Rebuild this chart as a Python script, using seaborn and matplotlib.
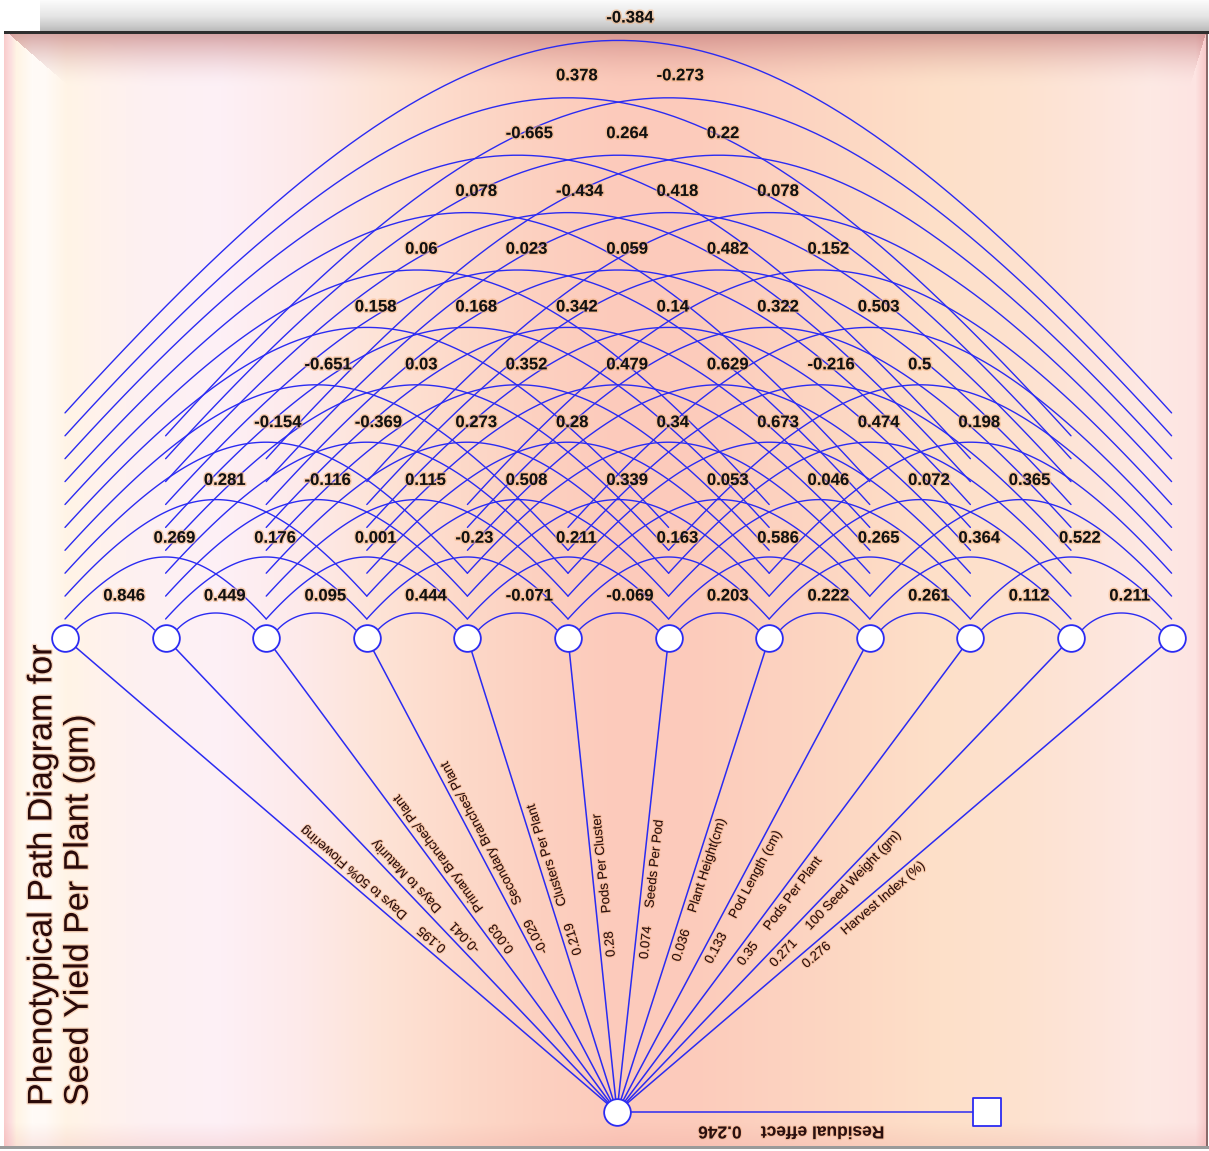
import numpy as np
import pandas as pd
import matplotlib
matplotlib.use("Agg")
import matplotlib.pyplot as plt
import matplotlib.patheffects as pe
import seaborn as sns

# ---------------------------------------------------------------- data
traits = ["Days to 50% Flowering", "Days to Maturity", "Primary Branches/ Plant",
          "Secondary Branches/ Plant", "Clusters Per Plant", "Pods Per Cluster",
          "Seeds Per Pod", "Plant Height(cm)", "Pod Length (cm)", "Pods Per Plant",
          "100 Seed Weight (gm)", "Harvest Index (%)"]
direct_effects = [0.195, -0.041, 0.003, -0.029, 0.219, 0.28,
                  0.074, 0.036, 0.133, 0.35, 0.271, 0.276]
residual_effect = 0.246

# correlation between trait i and trait i+lag
lag1 = [0.846, 0.449, 0.095, 0.444, -0.071, -0.069, 0.203, 0.222, 0.261, 0.112, 0.211]
lag2 = [0.269, 0.176, 0.001, -0.23, 0.211, 0.163, 0.586, 0.265, 0.364, 0.522]
lag3 = [0.281, -0.116, 0.115, 0.508, 0.339, 0.053, 0.046, 0.072, 0.365]
lag4 = [-0.154, -0.369, 0.273, 0.28, 0.34, 0.673, 0.474, 0.198]
lag5 = [-0.651, 0.03, 0.352, 0.479, 0.629, -0.216, 0.5]
lag6 = [0.158, 0.168, 0.342, 0.14, 0.322, 0.503]
lag7 = [0.06, 0.023, 0.059, 0.482, 0.152]
lag8 = [0.078, -0.434, 0.418, 0.078]
lag9 = [-0.665, 0.264, 0.22]
lag10 = [0.378, -0.273]
lag11 = [-0.384]
lags = [lag1, lag2, lag3, lag4, lag5, lag6, lag7, lag8, lag9, lag10, lag11]

# ---------------------------------------------------------------- layout
W, H = 1209, 1151
NODE_X0, NODE_DX, NODE_Y, NODE_R = 65.0, 100.6, 638.0, 13.5
ROOT = (617.0, 1112.0)
RESID = (987.0, 1112.0)
BLUE = "#2b2bf2"
FONT = "Liberation Sans"
n = len(traits)
node_x = NODE_X0 + NODE_DX * np.arange(n)

sns.set_theme(style="white")
plt.rcParams["font.family"] = [FONT, "DejaVu Sans"]

fig = plt.figure(figsize=(W / 100, H / 100), dpi=100)
ax = fig.add_axes([0, 0, 1, 1])

# ---------------------------------------------------------------- backdrop
def hex2rgb(h):
    h = h.lstrip("#")
    return np.array([int(h[i:i + 2], 16) for i in (0, 2, 4)]) / 255.0

stops_x = [4, 10, 16, 32, 45, 66, 100, 150, 220, 300, 380, 460, 540, 620, 690,
           780, 860, 940, 1020, 1090, 1150, 1195, 1203, 1208]
stops_c = ["#f9cccc", "#fcdede", "#fff4e4", "#fffbf7", "#fffaf6", "#fff4e6", "#fff2ec",
           "#fdf0f2", "#fdf0f6", "#fdeaea", "#fde3d6", "#fdd9c9", "#fcd0c0", "#fccabb",
           "#fccbbb", "#fcd2c0", "#fdd9c4", "#fde0c9", "#fde2cf", "#fde5da", "#fde9e4",
           "#fde4e2", "#f9cfcf", "#f5c2c2"]
cols = np.array([hex2rgb(c) for c in stops_c])
xs = np.arange(W)
row = np.stack([np.interp(xs, stops_x, cols[:, k]) for k in range(3)], axis=1)

bg = np.ones((H, W, 3))
bg[34:1146, 4:1208] = row[4:1208]

# bevel shading along the top of the panel
shade = hex2rgb("#c07878")
for y in range(34, 86):
    t = (y - 34) / 52.0
    a = 0.62 * (1 - t) ** 1.6
    x_left = int(10 + (y - 34) * 1.15)
    x_right = int(1206 - (y - 34) * 0.3)
    bg[y, x_left:x_right] = bg[y, x_left:x_right] * (1 - a) + shade * a
# soft shading along the bottom edge
for y in range(1122, 1146):
    t = (1146 - y) / 24.0
    a = 0.18 * (1 - t)
    bg[y, 4:1208] = bg[y, 4:1208] * (1 - a) + hex2rgb("#e89090") * a

# grey header strip and dividing rule
for y in range(0, 32):
    t = y / 31.0
    g = np.interp(t, [0, 0.2, 0.5, 0.8, 1.0], [0.985, 0.95, 0.9, 0.8, 0.72])
    bg[y, 40:W] = g
bg[31:34, 4:W] = hex2rgb("#2e2e2e")
bg[34:1146, 1206:1208] = hex2rgb("#8a6a6a")
bg[1146:1149, 0:W] = hex2rgb("#9a9a9a")

ax.imshow(bg, extent=(0, W, H, 0), origin="upper", aspect="auto", zorder=0,
          interpolation="bilinear")

# ---------------------------------------------------------------- correlation arcs
def bezier(p0, p1, p2, p3, m=90):
    t = np.linspace(0, 1, m)[:, None]
    return ((1 - t) ** 3 * p0 + 3 * t * (1 - t) ** 2 * p1
            + 3 * t ** 2 * (1 - t) * p2 + t ** 3 * p3)

SLOPE = 1.1
arc_rows, labels = [], []
for d, vals in enumerate(lags, start=1):
    for i, v in enumerate(vals):
        j = i + d
        if d == 1:
            y0 = 630.0
            p0 = np.array([node_x[i] + 11, y0])
            p3 = np.array([node_x[j] - 11, y0])
            apex = 613.0
        else:
            y0 = 619.0 - (d - 2) * 22.9
            p0 = np.array([node_x[i], y0])
            p3 = np.array([node_x[j], y0])
            apex = 557.0 - (d - 2) * 57.4
        lift = 4.0 * (y0 - apex) / 3.0
        c = lift / SLOPE
        p1 = p0 + np.array([c, -lift])
        p2 = p3 + np.array([-c, -lift])
        pts = bezier(p0, p1, p2, p3)
        key = f"{i}-{j}"
        arc_rows.append(pd.DataFrame({"x": pts[:, 0], "y": pts[:, 1], "pair": key}))
        labels.append(((node_x[i] + node_x[j]) / 2 - 12, 596 - (d - 1) * 57.8, v))

arcs = pd.concat(arc_rows, ignore_index=True)
sns.lineplot(data=arcs, x="x", y="y", units="pair", estimator=None, sort=False,
             color=BLUE, lw=1.0, ax=ax, legend=False, zorder=2)

glow = [pe.withStroke(linewidth=2.2, foreground="#f3b27e", alpha=0.55)]
for lx, ly, v in labels:
    ax.text(lx, ly, str(v), ha="left", va="center", fontsize=12, fontweight="bold",
            color="#111111", zorder=6, path_effects=glow)

# ---------------------------------------------------------------- direct paths
spoke_rows = []
for i in range(n):
    spoke_rows.append(pd.DataFrame({"x": [ROOT[0], node_x[i]], "y": [ROOT[1], NODE_Y],
                                    "path": i}))
spoke_rows.append(pd.DataFrame({"x": [ROOT[0], RESID[0]], "y": [ROOT[1], RESID[1]],
                                "path": n}))
spokes = pd.concat(spoke_rows, ignore_index=True)
sns.lineplot(data=spokes, x="x", y="y", units="path", estimator=None, sort=False,
             color=BLUE, lw=1.1, ax=ax, legend=False, zorder=3)

soft = [pe.withStroke(linewidth=1.6, foreground="#f0a878", alpha=0.45)]
for i in range(n):
    dx, dy = node_x[i] - ROOT[0], NODE_Y - ROOT[1]
    L = np.hypot(dx, dy)
    ux, uy = dx / L, dy / L
    nx, ny = -uy, ux
    ang = np.degrees(np.arctan2(-dy, dx))
    t0 = 0.325 * L
    off = 5.0
    px = ROOT[0] + ux * t0 + nx * off
    py = ROOT[1] + uy * t0 + ny * off
    ax.text(px, py, f"{direct_effects[i]:g}     {traits[i]}", rotation=ang,
            rotation_mode="anchor", ha="left", va="top", fontsize=9.5,
            color="#2a1010", zorder=6, path_effects=soft)

ax.text(791, 1131, f"Residual effect    {residual_effect:g}", rotation=180,
        ha="center", va="center", fontsize=12.5, fontweight="bold", color="#2a1010",
        zorder=6, path_effects=soft)

# ---------------------------------------------------------------- nodes
sns.scatterplot(x=node_x, y=np.full(n, NODE_Y), s=370, color="white",
                edgecolor=BLUE, linewidth=1.3, ax=ax, zorder=7, legend=False)
sns.scatterplot(x=[ROOT[0]], y=[ROOT[1]], s=370, color="white",
                edgecolor=BLUE, linewidth=1.3, ax=ax, zorder=7, legend=False)
sns.scatterplot(x=[RESID[0]], y=[RESID[1]], s=400, marker="s", color="white",
                edgecolor=BLUE, linewidth=1.3, ax=ax, zorder=7, legend=False)

# ---------------------------------------------------------------- title
ax.text(61, 1106, "Phenotypical Path Diagram for\nSeed Yield Per Plant (gm)",
        rotation=90, ha="center", va="bottom", multialignment="left",
        fontsize=24.5, color="#2a0a0a", linespacing=1.22, zorder=6,
        path_effects=[pe.withStroke(linewidth=2.0, foreground="#e8a070", alpha=0.4)])

ax.set_xlim(0, W)
ax.set_ylim(H, 0)
ax.set_xlabel("")
ax.set_ylabel("")
ax.axis("off")
fig.savefig("out.png", dpi=100)
